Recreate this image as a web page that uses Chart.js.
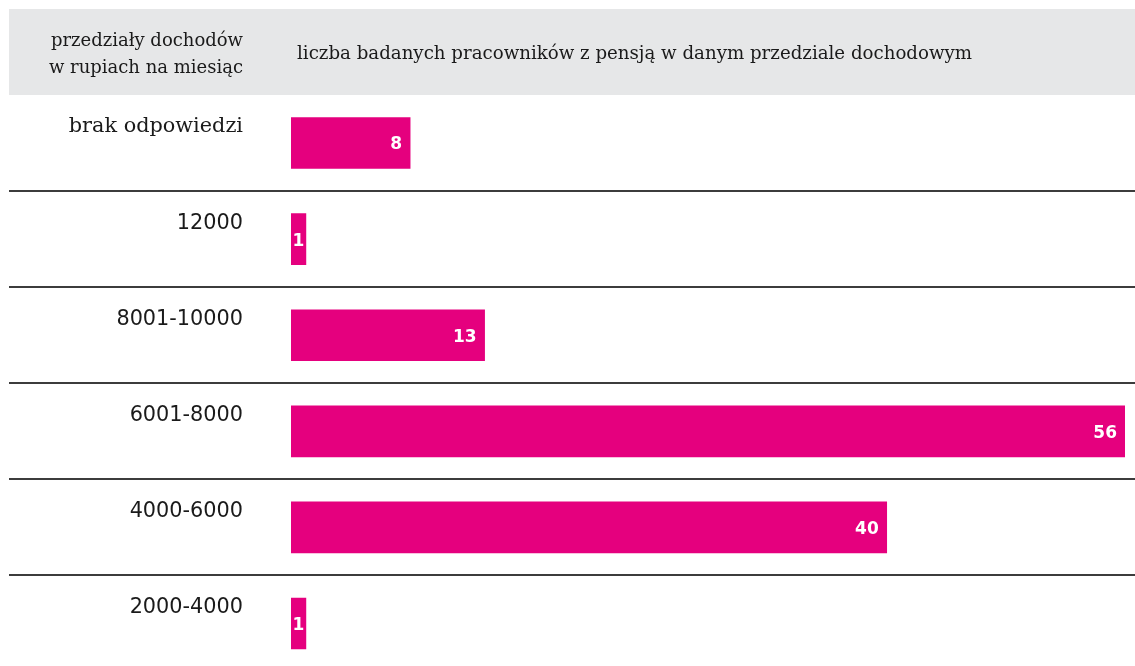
<!DOCTYPE html>
<html>
<head>
<meta charset="utf-8">
<script src="https://cdn.jsdelivr.net/npm/chart.js@4/dist/chart.umd.min.js"></script>
<style>
  html, body { margin: 0; padding: 0; background: #fff; overflow: hidden; }
  #wrap { width: 1135px; height: 732px; }
</style>
</head>
<body>
<div id="wrap"><canvas id="myChart" width="1135" height="732"></canvas></div>
<script>
// income brackets (rupees per month) and number of surveyed workers with a salary in each
let categories = ["brak odpowiedzi", "12000", "8001-10000", "6001-8000", "4000-6000", "2000-4000"];
let workers = [8, 1, 13, 56, 40, 1];

let headLeft = ["przedziały dochodów", "w rupiach na miesiąc"];
let headRight = "liczba badanych pracowników z pensją w danym przedziale dochodowym";

let pink = "#e5007e";
let serif = "'DejaVu Serif', serif";
let sans = "'DejaVu Sans', sans-serif";

// grey header band + column titles
let headerPlugin = {
  id: "header",
  beforeDraw: (chart) => {
    let ctx = chart.ctx;
    ctx.save();
    ctx.fillStyle = "#e6e7e8";
    ctx.fillRect(9, 9, 1126, 86);
    ctx.fillStyle = "#1a1a1a";
    ctx.font = "18px " + serif;
    ctx.textBaseline = "alphabetic";
    ctx.textAlign = "right";
    ctx.fillText(headLeft[0], 243, 46);
    ctx.fillText(headLeft[1], 243, 73);
    ctx.textAlign = "left";
    ctx.font = "18.2px " + serif;
    ctx.fillText(headRight, 297, 59);
    ctx.restore();
  },
};

// dark rules between the rows
let rulesPlugin = {
  id: "rules",
  afterDraw: (chart) => {
    let ctx = chart.ctx;
    let y = chart.scales.y;
    ctx.save();
    ctx.strokeStyle = "#3c3c3c";
    ctx.lineWidth = 2;
    for (let i = 1; i < categories.length; i++) {
      let py = Math.round((y.getPixelForTick(i - 1) + y.getPixelForTick(i)) / 2);
      ctx.beginPath();
      ctx.moveTo(9, py);
      ctx.lineTo(1135, py);
      ctx.stroke();
    }
    ctx.restore();
  },
};

// white value at the end of every bar
let valuePlugin = {
  id: "values",
  afterDatasetsDraw: (chart) => {
    let ctx = chart.ctx;
    let meta = chart.getDatasetMeta(0);
    ctx.save();
    ctx.fillStyle = "#fff";
    ctx.font = "bold 17px " + sans;
    ctx.textBaseline = "middle";
    meta.data.forEach((bar, i) => {
      let txt = String(workers[i]);
      let w = bar.x - bar.base;
      if (w < 30) {
        ctx.textAlign = "center";
        ctx.fillText(txt, (bar.x + bar.base) / 2, bar.y + 2);
      } else {
        ctx.textAlign = "right";
        ctx.fillText(txt, bar.x - 8, bar.y + 2);
      }
    });
    ctx.restore();
  },
};

let ctx = document.getElementById("myChart");
let chart = new Chart(ctx, {
  type: "bar",
  data: {
    labels: categories,
    datasets: [
      {
        data: workers,
        backgroundColor: pink,
        borderWidth: 0,
        barThickness: 51,
      },
    ],
  },
  options: {
    indexAxis: "y",
    responsive: false,
    animation: false,
    layout: { padding: { top: 95, right: 10, bottom: 9, left: 0 } },
    plugins: { legend: { display: false }, tooltip: { enabled: false } },
    scales: {
      x: { display: false, min: 0, max: 56 },
      y: {
        grid: { display: false, drawTicks: false },
        border: { display: false },
        afterFit: (scale) => {
          scale.width = 291;
        },
        ticks: {
          padding: 48,
          labelOffset: -16,
          color: "#1a1a1a",
          font: (c) => (c.index === 0 ? { family: serif, size: 20.8 } : { family: sans, size: 20.8 }),
        },
      },
    },
  },
  plugins: [headerPlugin, rulesPlugin, valuePlugin],
});
</script>
</body>
</html>
